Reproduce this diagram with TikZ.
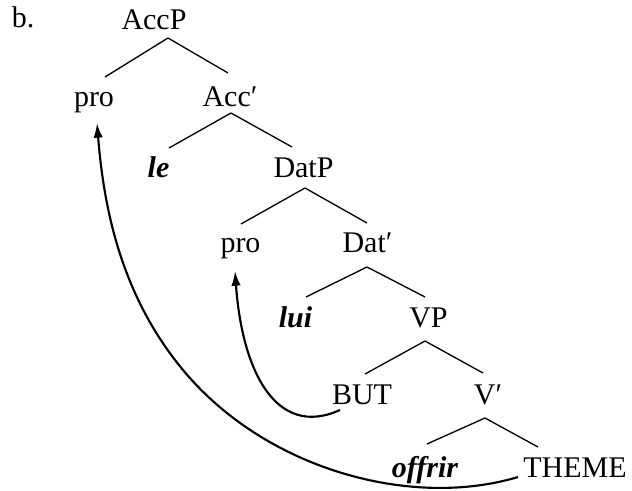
\documentclass[tikz,border=0pt]{standalone}
\usepackage{fontspec}
\setmainfont{Liberation Serif}
\usetikzlibrary{calc,arrows.meta}

\begin{document}
\begin{tikzpicture}[x=0.75pt,y=-0.75pt,
  lab/.style={anchor=base,inner sep=0pt,font=\fontsize{22.5pt}{27pt}\selectfont},
  lex/.style={lab,font=\fontsize{22.5pt}{27pt}\selectfont\bfseries\itshape},
  branch/.style={line width=1pt},
  move/.style={line width=1.6pt,-{Latex[length=11pt,width=7pt]}}]
\useasboundingbox (0,0) rectangle (632,491);

% labels of the tree
\node[lab] (ex)    at (23,28)    {b.};
\node[lab] (accp)  at (154,30)   {AccP};
\node[lab] (proA)  at (94,107)   {pro};
\node[lab] (accb)  at (230,107)  {Acc′};
\node[lex] (le)    at (158.5,178){le};
\node[lab] (datp)  at (303.5,178){DatP};
\node[lab] (proD)  at (240.5,253){pro};
\node[lab] (datb)  at (367.5,253){Dat′};
\node[lex] (lui)   at (295.5,328){lui};
\node[lab] (vp)    at (428.5,328){VP};
\node[lab] (but)   at (362,405)  {BUT};
\node[lab] (vb)    at (488,405)  {V′};
\node[lex] (offr)  at (425,478)  {offrir};
\node[lab] (theme) at (575,478)  {THEME};

% branches
\draw[branch] ($(accp.base)+(14,8)$) -- ($(proA.base)+(11,-30)$);
\draw[branch] ($(accp.base)+(14,8)$) -- ($(accb.base)+(-2,-34)$);
\draw[branch] ($(accb.base)+(1,6)$) -- ($(le.base)+(10.5,-30)$);
\draw[branch] ($(accb.base)+(1,6)$) -- ($(datp.base)+(-11.5,-31)$);
\draw[branch] ($(datp.base)+(1.5,10)$) -- ($(proD.base)+(0.5,-29)$);
\draw[branch] ($(datp.base)+(1.5,10)$) -- ($(datb.base)+(-0.5,-30)$);
\draw[branch] ($(datb.base)+(-0.5,14)$) -- ($(lui.base)+(10.5,-31)$);
\draw[branch] ($(datb.base)+(-0.5,14)$) -- ($(vp.base)+(-3.5,-31)$);
\draw[branch] ($(vp.base)+(-3.5,13)$) -- ($(but.base)+(3,-31)$);
\draw[branch] ($(vp.base)+(-3.5,13)$) -- ($(vb.base)+(-5,-32)$);
\draw[branch] ($(vb.base)+(-3,13)$) -- ($(offr.base)+(2,-34)$);
\draw[branch] ($(vb.base)+(-3,13)$) -- ($(theme.base)+(-37,-31)$);

% movement arrows
\draw[move] ($(but.base)+(-22,5)$)
  .. controls (276,439) and (242,371) .. ($(proD.base)+(-5.5,18)$);
\draw[move] ($(theme.base)+(-57,-1)$)
  .. controls (412,509) and (266,470) .. (183,370)
  .. controls (119,293) and (103.4,203) .. ($(proA.base)+(3,16)$);
\end{tikzpicture}
\end{document}
